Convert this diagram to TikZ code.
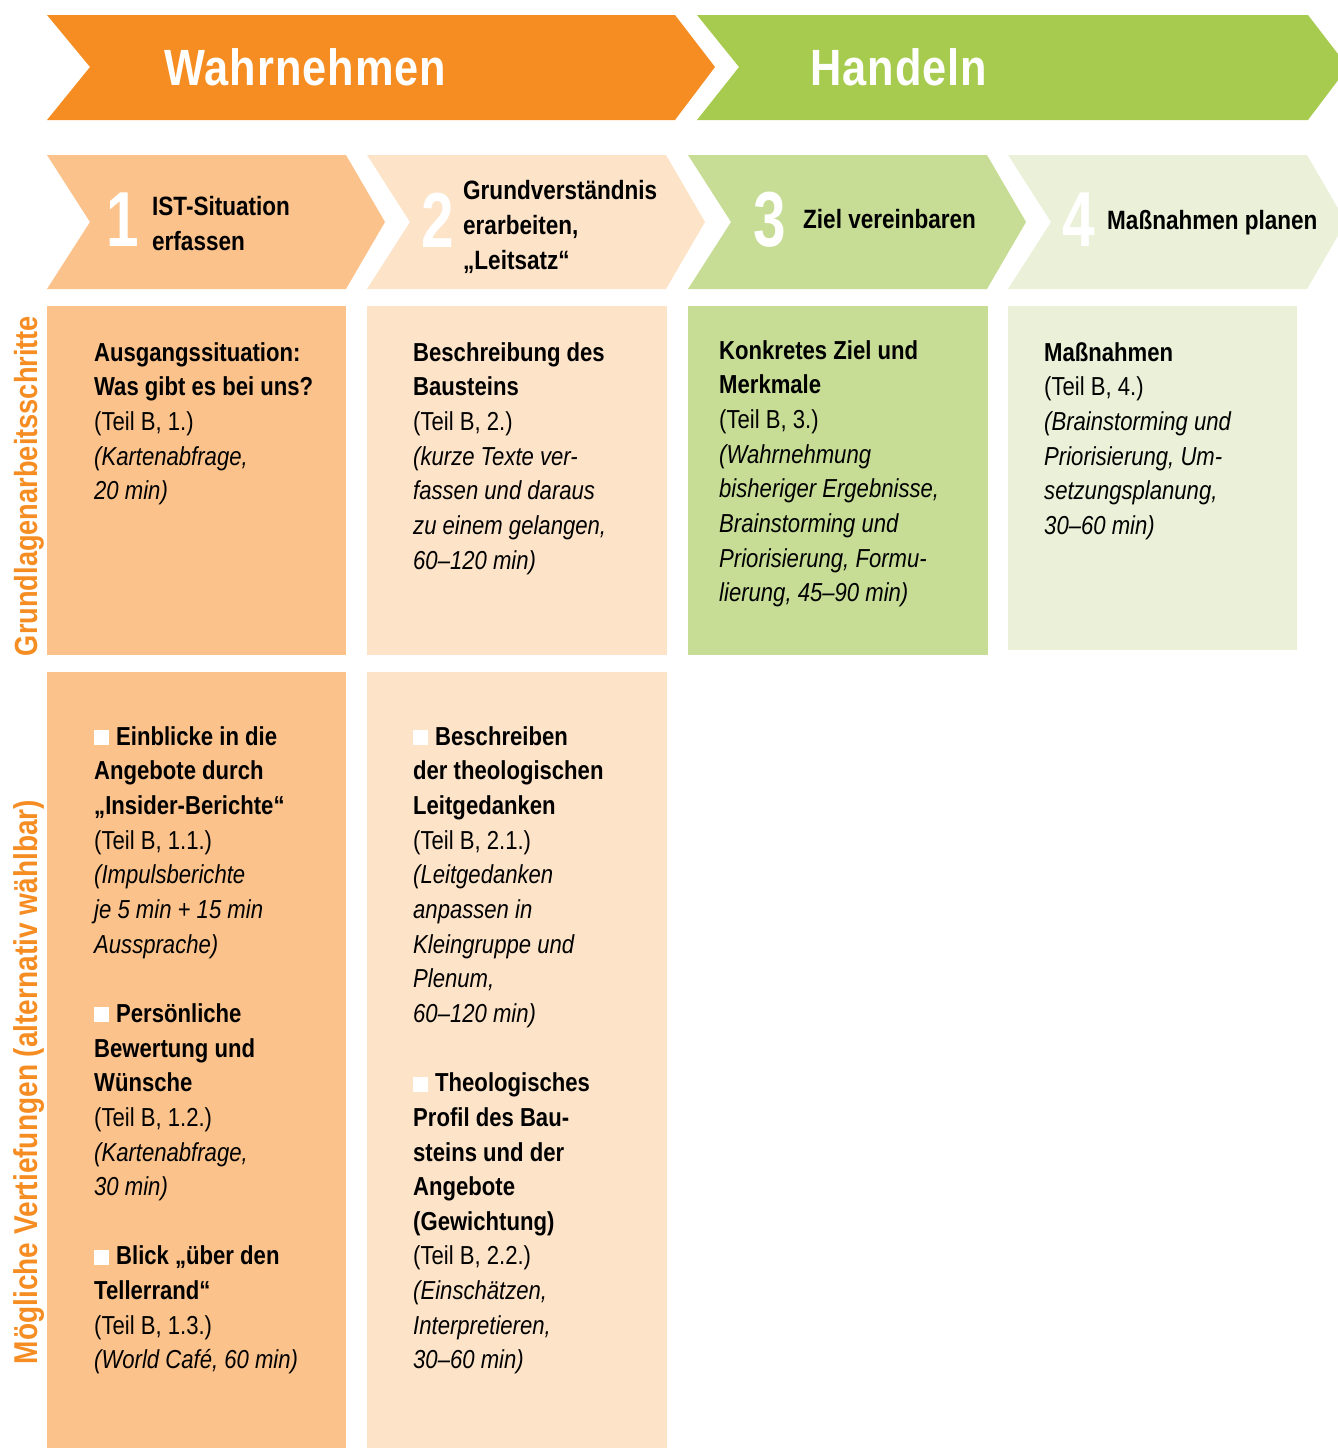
\documentclass[tikz,border=0pt]{standalone}
\usepackage{fontspec}
\setmainfont{Liberation Sans}[FakeStretch=0.85]
\usetikzlibrary{positioning}
\definecolor{phaseA}{HTML}{F58D22}
\definecolor{phaseB}{HTML}{A7CB4F}
\definecolor{stepA}{HTML}{FBC28B}
\definecolor{stepB}{HTML}{FDE3C8}
\definecolor{stepC}{HTML}{C7DD95}
\definecolor{stepD}{HTML}{EBF1D8}
\newcommand{\bul}{\textcolor{white}{\rule{15pt}{15pt}}\hspace{7pt}}
\newcommand{\fst}{\rule{0pt}{20pt}}

\begin{document}
\begin{tikzpicture}[x=1pt, y=-1pt,
  phase/.style={font=\fontsize{51}{51}\selectfont\bfseries\addfontfeatures{LetterSpace=2}, text=white, anchor=west, inner sep=0pt},
  num/.style={font=\fontsize{78}{78}\selectfont\bfseries\addfontfeatures{FakeStretch=0.75}, text=white, inner sep=0pt},
  steplab/.style={font=\fontsize{26.5}{35}\selectfont\bfseries, anchor=west, align=left, inner sep=0pt},
  txt/.style={font=\fontsize{26}{34.65}\selectfont, anchor=north west, align=left, inner sep=0pt},
  side/.style={font=\fontsize{32}{32}\selectfont\bfseries, text=phaseA, rotate=90, anchor=base, inner sep=0pt}]
\useasboundingbox (0,0) rectangle (1338,1448);
% phases
\fill[phaseA] (47,15) -- (675,15) -- (715,67) -- (675,120) -- (47,120) -- (90,67) -- cycle;
\fill[phaseB] (697,15) -- (1308,15) -- (1348,67) -- (1308,120) -- (697,120) -- (739,67) -- cycle;
\node[phase] (wahr) at (164,67) {Wahrnehmen};
\node[phase] (hand) at (810,67) {Handeln};
% steps
\foreach \x/\c in {47/stepA,367/stepB,688/stepC,1008/stepD}
  \fill[\c] (\x,155) -- ++(299,0) -- ++(39,67) -- ++(-39,67) -- ++(-299,0) -- ++(43,-67) -- cycle;
\node[num] (n1) at (123,220) {1}; \node[steplab] (s1) at (152,224) {IST-Situation\\erfassen};
\node[num] (n2) at (438,220) {2}; \node[steplab] (s2) at (463,227) {Grundverständnis\\erarbeiten,\\„Leitsatz“};
\node[num] (n3) at (770,220) {3}; \node[steplab] (s3) at (803,219) {Ziel vereinbaren};
\node[num] (n4) at (1079,220) {4}; \node[steplab] (s4) at (1107,223) {Maßnahmen planen};
% columns
\fill[stepA] (47,306) rectangle (346,655); \fill[stepB] (367,306) rectangle (667,655);
\fill[stepC] (688,306) rectangle (988,655); \fill[stepD] (1008,306) rectangle (1297,650);
\fill[stepA] (47,672) rectangle (346,1448); \fill[stepB] (367,672) rectangle (667,1448);
\node[side] (grund) at (37,486) {Grundlagenarbeitsschritte};
\node[side, font=\fontsize{33}{33}\selectfont\bfseries] (vert) at (37,1082) {Mögliche Vertiefungen (alternativ wählbar)};
% basic steps
\node[txt] (b11) at (94,341) {\fst\textbf{Ausgangssituation:}\\\textbf{Was gibt es bei uns?}\\(Teil B, 1.)\\\textit{(Kartenabfrage,}\\\textit{20 min)}};
\node[txt] (b12) at (413,341) {\fst\textbf{Beschreibung des}\\\textbf{Bausteins}\\(Teil B, 2.)\\\textit{(kurze Texte ver-}\\\textit{fassen und daraus}\\\textit{zu einem gelangen,}\\\textit{60–120 min)}};
\node[txt] (b13) at (719,339) {\fst\textbf{Konkretes Ziel und}\\\textbf{Merkmale}\\(Teil B, 3.)\\\textit{(Wahrnehmung}\\\textit{bisheriger Ergebnisse,}\\\textit{Brainstorming und}\\\textit{Priorisierung, Formu-}\\\textit{lierung, 45–90 min)}};
\node[txt] (b14) at (1044,341) {\fst\textbf{Maßnahmen}\\(Teil B, 4.)\\\textit{(Brainstorming und}\\\textit{Priorisierung, Um-}\\\textit{setzungsplanung,}\\\textit{30–60 min)}};
% deepening
\node[txt] (b21) at (94,725) {\fst\bul\textbf{Einblicke in die}\\\textbf{Angebote durch}\\\textbf{„Insider-Berichte“}\\(Teil B, 1.1.)\\\textit{(Impulsberichte}\\\textit{je 5 min + 15 min}\\\textit{Aussprache)}\\[34.65pt]
  \bul\textbf{Persönliche}\\\textbf{Bewertung und}\\\textbf{Wünsche}\\(Teil B, 1.2.)\\\textit{(Kartenabfrage,}\\\textit{30 min)}\\[34.65pt]
  \bul\textbf{Blick „über den}\\\textbf{Tellerrand“}\\(Teil B, 1.3.)\\\textit{(World Café, 60 min)}};
\node[txt] (b22) at (413,725) {\fst\bul\textbf{Beschreiben}\\\textbf{der theologischen}\\\textbf{Leitgedanken}\\(Teil B, 2.1.)\\\textit{(Leitgedanken}\\\textit{anpassen in}\\\textit{Kleingruppe und}\\\textit{Plenum,}\\\textit{60–120 min)}\\[34.65pt]
  \bul\textbf{Theologisches}\\\textbf{Profil des Bau-}\\\textbf{steins und der}\\\textbf{Angebote}\\\textbf{(Gewichtung)}\\(Teil B, 2.2.)\\\textit{(Einschätzen,}\\\textit{Interpretieren,}\\\textit{30–60 min)}};
\end{tikzpicture}
\end{document}
